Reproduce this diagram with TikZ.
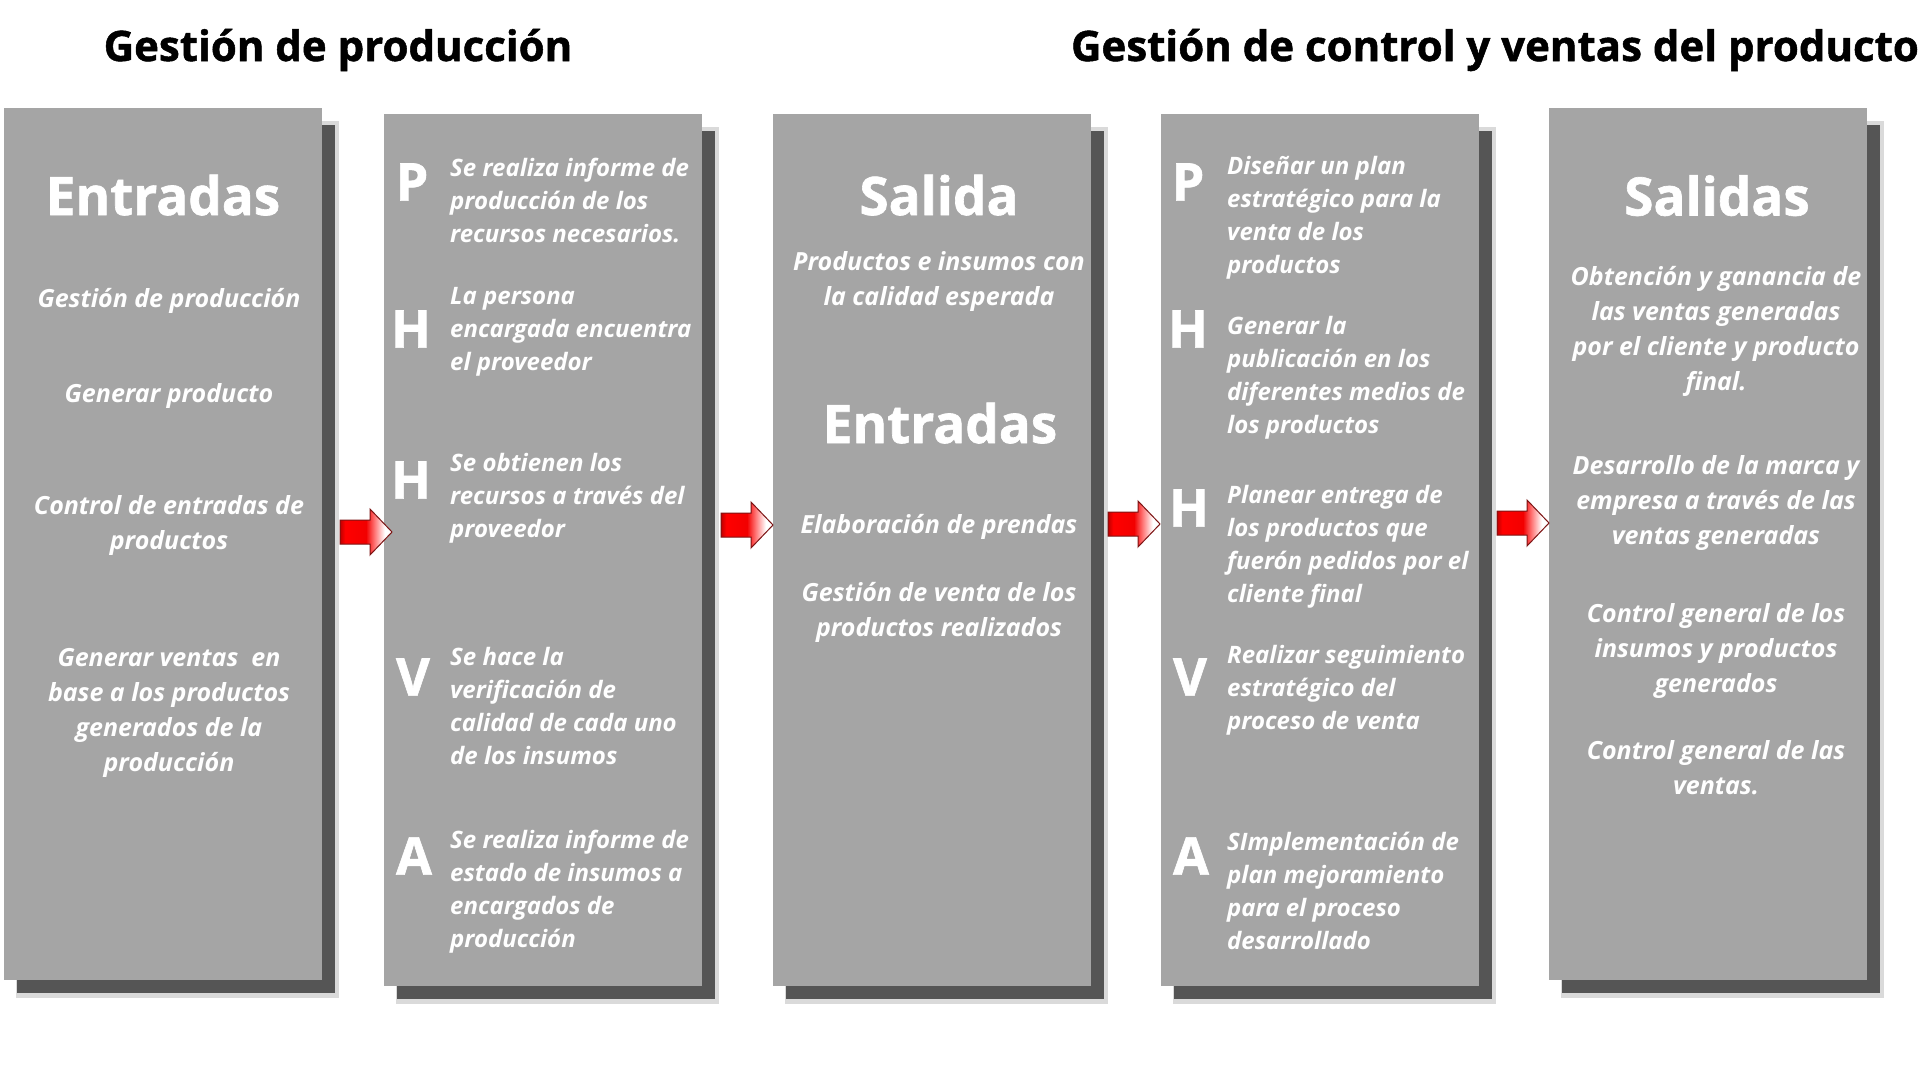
\documentclass[tikz,border=0pt]{standalone}
\usepackage{fontspec}
\setmainfont{Open Sans}
\newcommand{\heavyfont}{\bfseries\addfontfeature{FakeBold=1.2}}
\usetikzlibrary{calc}
\pgfdeclarelayer{bg}
\pgfsetlayers{bg,main}
\definecolor{boxgray}{RGB}{165,165,165}
\definecolor{shdark}{RGB}{85,85,85}
\definecolor{shlight}{RGB}{218,218,218}
\definecolor{arredge}{RGB}{125,20,20}
\pgfdeclarehorizontalshading{redfade}{100bp}{color(0bp)=(red!75!black); color(25bp)=(red!75!black); color(30bp)=(red); color(50bp)=(red!95!black); color(58bp)=(red!55!white); color(68bp)=(white); color(100bp)=(white)}
\begin{document}
\begin{tikzpicture}[x=1pt,y=-1pt,
  panel/.style={fill=boxgray, draw=none, minimum width=318pt, minimum height=872pt, inner sep=0pt, outer sep=0pt},
  txt/.style={text=white, font=\bfseries\itshape\fontsize{25}{35}\selectfont, align=center, inner sep=0pt},
  ltxt/.style={text=white, font=\bfseries\itshape\fontsize{24}{33}\selectfont, align=left, anchor=west, inner sep=0pt},
  ttl/.style={text=white, font=\fontsize{53}{60}\selectfont\heavyfont, anchor=base, inner sep=0pt},
  ltr/.style={text=white, font=\fontsize{52}{60}\selectfont\heavyfont, inner sep=0pt},
  hdr/.style={text=black, font=\fontsize{42}{48}\selectfont\heavyfont, anchor=base, inner sep=0pt},
  fatarrow/.style={shading=redfade, draw=arredge, line width=1pt, line join=miter}
]
\begin{pgfonlayer}{bg}
\fill[white] (0,0) rectangle (1920,1080);
\end{pgfonlayer}
\useasboundingbox (0,0) rectangle (1920,1080);

% headings
\node[hdr] (h1) at (338,61) {Gestión de producción};
\node[hdr] (h2) at (1495,61) {Gestión de control y ventas del producto};

% panels
\node[panel] (b1) at (163,544) {};
\node[panel] (b2) at (543,549.5) {};
\node[panel] (b3) at (932,549.5) {};
\node[panel] (b4) at (1320,549.5) {};
\node[panel] (b5) at (1708,544) {};

\begin{pgfonlayer}{bg}
\foreach \b in {b1,b2,b3,b4,b5}{
  \fill[shlight] ($(\b.north west)+(12,13)$) rectangle ($(\b.south east)+(17,18)$);
  \fill[shdark] ($(\b.north west)+(13,17)$) rectangle ($(\b.south east)+(13,13)$);
}
\end{pgfonlayer}

% box 1
\node[ttl] (t1) at (163,215) {Entradas};
\node[txt] (e1) at (169,301) {Gestión de producción};
\node[txt] (e2) at (169,396) {Generar producto};
\node[txt] (e3) at (169,525) {Control de entradas de\\productos};
\node[txt] (e4) at (169,713) {Generar ventas~ en\\base a los productos\\generados de la\\producción};

% box 2
\node[ltr] (p2) at (412,182) {P};
\node[ltr] (h2a) at (411,329) {H};
\node[ltr] (h2b) at (411,480) {H};
\node[ltr] (v2) at (413,677) {V};
\node[ltr] (a2) at (414,856) {A};
\node[ltxt] (q1) at (450,200) {Se realiza informe de\\producción de los\\recursos necesarios.};
\node[ltxt] (q2) at (450,332) {La persona\\encargada encuentra\\el proveedor};
\node[ltxt] (q3) at (450,498) {Se obtienen los\\recursos a través del\\proveedor};
\node[ltxt] (q4) at (450,706) {Se hace la\\verificación de\\calidad de cada uno\\de los insumos};
\node[ltxt] (q5) at (450,891.5) {Se realiza informe de\\estado de insumos a\\encargados de\\producción};

% box 3
\node[ttl] (t3) at (939,215) {Salida};
\node[txt] (s1) at (939,281) {Productos e insumos con\\la calidad esperada};
\node[ttl] (t3b) at (940,443) {Entradas};
\node[txt] (s2) at (939,526.5) {Elaboración de prendas};
\node[txt] (s3) at (939,612) {Gestión de venta de los\\productos realizados};

% box 4
\node[ltr] (p4) at (1188,182) {P};
\node[ltr] (h4a) at (1188,329) {H};
\node[ltr] (h4b) at (1189,508) {H};
\node[ltr] (v4) at (1190,677) {V};
\node[ltr] (a4) at (1191,856) {A};
\node[ltxt] (r1) at (1227,218) {Diseñar un plan\\estratégico para la\\venta de los\\productos};
\node[ltxt] (r2) at (1227,377.5) {Generar la\\publicación en los\\diferentes medios de\\los productos};
\node[ltxt] (r3) at (1227,547) {Planear entrega de\\los productos que\\fuerón pedidos por el\\cliente final};
\node[ltxt] (r4) at (1227,690.5) {Realizar seguimiento\\estratégico del\\proceso de venta};
\node[ltxt] (r5) at (1227,890.5) {SImplementación de\\plan mejoramiento\\para el proceso\\desarrollado};

% box 5
\node[ttl] (t5) at (1717,215.5) {Salidas};
\node[txt] (o1) at (1716,331.5) {Obtención y ganancia de\\las ventas generadas\\por el cliente y producto\\final.};
\node[txt] (o2) at (1716,502.5) {Desarrollo de la marca y\\empresa a través de las\\ventas generadas};
\node[txt] (o3) at (1716,650.5) {Control general de los\\insumos y productos\\generados};
\node[txt] (o4) at (1716,768) {Control general de las\\ventas.};

% arrows
\coordinate (a1) at (340,532);
\coordinate (a2) at (721,525);
\coordinate (a3) at (1108,524);
\coordinate (a4) at (1497,523);
\foreach \a in {a1,a2,a3,a4}{
  \path[fatarrow] (\a) ++(0,-12) -- ++(30,0) -- ++(0,-11) -- ++(22,23) -- ++(-22,23) -- ++(0,-11) -- ++(-30,0) -- cycle;
}
\end{tikzpicture}
\end{document}
